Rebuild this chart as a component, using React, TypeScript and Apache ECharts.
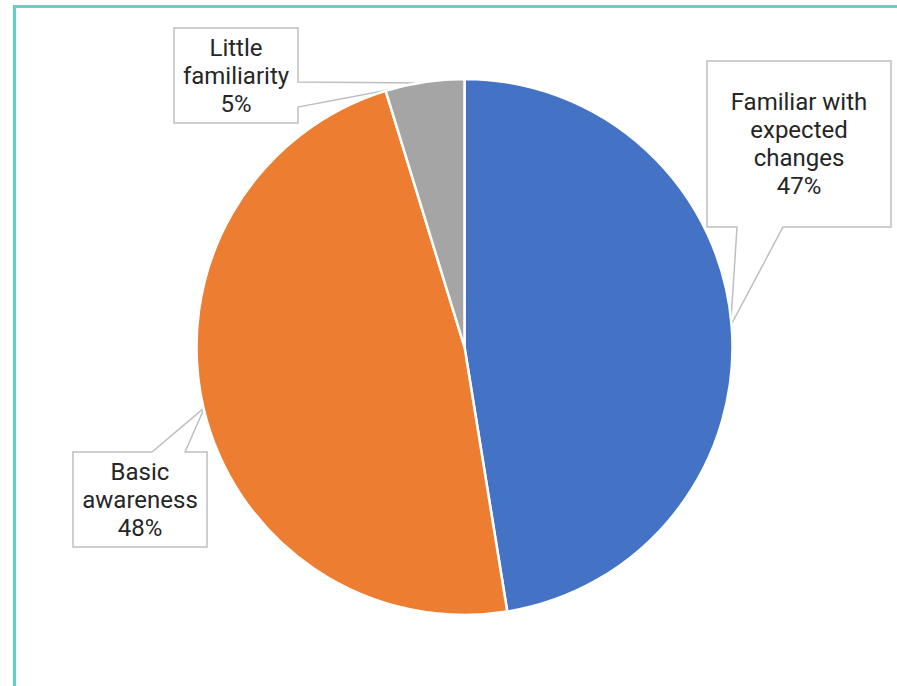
import { useEffect, useRef } from 'react';
import * as echarts from 'echarts';

const categories = ['Familiar with\nexpected\nchanges', 'Basic\nawareness', 'Little\nfamiliarity'];
const values = [47.45, 47.8, 4.75];
const colors = ['#4472C4', '#ED7D31', '#A5A5A5'];

const CX = 464.5;
const CY = 347;
const R = 268;

type Box = { x: number; y: number; w: number; h: number; side: 'top' | 'bottom' | 'right'; a: number; b: number };
const boxes: Box[] = [
  { x: 707, y: 61, w: 184, h: 166, side: 'bottom', a: 737, b: 783 },
  { x: 73, y: 452, w: 134, h: 95, side: 'top', a: 152, b: 185 },
  { x: 174, y: 28, w: 124, h: 95, side: 'right', a: 82, b: 107 },
];

function tipPoint(i: number): [number, number] {
  const total = values.reduce((s, v) => s + v, 0);
  let cum = 0;
  for (let k = 0; k < i; k++) cum += values[k];
  const mid = (cum + values[i] / 2) / total;
  const ang = mid * Math.PI * 2;
  return [CX + (R - 1) * Math.sin(ang), CY - (R - 1) * Math.cos(ang)];
}

function calloutPoints(b: Box, tip: [number, number]): number[][] {
  const { x, y, w, h } = b;
  if (b.side === 'bottom') {
    return [[x, y], [x + w, y], [x + w, y + h], [b.b, y + h], tip, [b.a, y + h], [x, y + h]];
  }
  if (b.side === 'top') {
    return [[x, y], [b.a, y], tip, [b.b, y], [x + w, y], [x + w, y + h], [x, y + h]];
  }
  return [[x, y], [x + w, y], [x + w, b.a], tip, [x + w, b.b], [x + w, y + h], [x, y + h]];
}

export default function App() {
  const ref = useRef<HTMLDivElement>(null);
  useEffect(() => {
    if (!ref.current) return;
    const chart = echarts.init(ref.current, undefined, { renderer: 'svg' });
    const callouts = boxes.map((b, i) => ({
      type: 'polygon',
      z: 1,
      shape: { points: calloutPoints(b, tipPoint(i)) },
      style: { fill: '#ffffff', stroke: '#bfbfbf', lineWidth: 1.5 },
    }));
    chart.setOption({
      animation: false,
      backgroundColor: '#ffffff',
      graphic: [
        {
          type: 'rect',
          z: 0,
          shape: { x: 14.5, y: 6.5, width: 1200, height: 1200 },
          style: { fill: 'none', stroke: '#5fd3c4', lineWidth: 3 },
        },
        ...callouts,
      ],
      series: [
        {
          type: 'pie',
          z: 3,
          center: [CX, CY],
          radius: R,
          startAngle: 90,
          clockwise: true,
          silent: true,
          itemStyle: { borderColor: '#ffffff', borderWidth: 2.5 },
          label: {
            show: true,
            position: 'outside',
            fontFamily: 'Roboto',
            fontSize: 24,
            lineHeight: 28,
            color: '#262626',
            align: 'center',
            overflow: 'none',
            width: 300,
            formatter: (p: any) => `${p.name}\n${Math.round(p.percent)}%`,
          },
          labelLine: { show: false },
          labelLayout: (p: any) => {
            const b = boxes[p.dataIndex];
            return { x: b.x + b.w / 2, y: b.y + b.h / 2, align: 'center', verticalAlign: 'middle' };
          },
          data: categories.map((name, i) => ({
            name,
            value: values[i],
            itemStyle: { color: colors[i] },
          })),
        },
      ],
    });
    return () => chart.dispose();
  }, []);
  return (
    <div
      ref={ref}
      style={{ position: 'fixed', left: 0, top: 0, width: 897, height: 686 }}
    />
  );
}
